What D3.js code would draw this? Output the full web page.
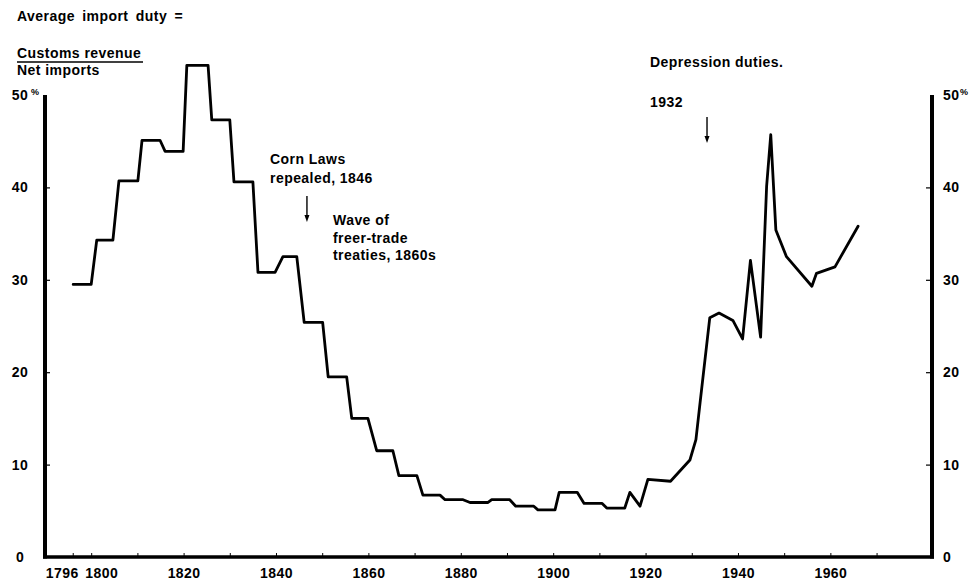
<!DOCTYPE html>
<html>
<head>
<meta charset="utf-8">
<script src="https://cdn.jsdelivr.net/npm/d3@7"></script>
<style>
  html, body { margin: 0; padding: 0; background: #fff; }
  svg text { font-family: "Liberation Sans", Arial, Helvetica, sans-serif; font-weight: bold; fill: #000; }
</style>
</head>
<body>
<svg id="chart" width="970" height="582"></svg>
<script>
// ---- data ----
const years = [1796.1, 1800.0, 1801.2, 1804.7, 1806.0, 1810.1, 1811.0, 1814.9, 1816.0, 1819.9,
  1820.7, 1825.3, 1826.1, 1830.0, 1830.9, 1835.0, 1836.1, 1839.8, 1841.5, 1844.5,
  1846.1, 1850.1, 1851.3, 1855.3, 1856.4, 1859.9, 1861.8, 1865.3, 1866.6, 1870.5,
  1871.8, 1875.5, 1876.6, 1880.5, 1882.0, 1885.9, 1886.7, 1890.6, 1891.9, 1895.8,
  1896.7, 1900.4, 1901.3, 1905.2, 1906.7, 1910.6, 1911.6, 1915.5, 1916.6, 1918.8,
  1920.5, 1925.4, 1929.6, 1930.9, 1931.8, 1933.9, 1935.9, 1938.9, 1941.0, 1942.7,
  1944.9, 1946.2, 1947.1, 1948.2, 1950.5, 1956.0, 1957.0, 1961.0, 1966.0];
const duty = [29.5, 29.5, 34.3, 34.3, 40.7, 40.7, 45.1, 45.1, 43.9, 43.9,
  53.2, 53.2, 47.3, 47.3, 40.6, 40.6, 30.8, 30.8, 32.5, 32.5,
  25.4, 25.4, 19.5, 19.5, 15.0, 15.0, 11.5, 11.5, 8.8, 8.8,
  6.7, 6.7, 6.2, 6.2, 5.9, 5.9, 6.2, 6.2, 5.5, 5.5,
  5.1, 5.1, 7.0, 7.0, 5.8, 5.8, 5.3, 5.3, 7.0, 5.5,
  8.4, 8.2, 10.5, 12.7, 16.7, 25.9, 26.4, 25.6, 23.6, 32.1,
  23.8, 40.1, 45.7, 35.4, 32.5, 29.3, 30.7, 31.4, 35.8];
const xTickYears = [1796, 1800, 1810, 1820, 1830, 1840, 1850, 1860, 1870, 1880, 1890, 1900, 1910, 1920, 1930, 1940, 1950, 1960, 1970];
const xLabelYears = [1796, 1800, 1820, 1840, 1860, 1880, 1900, 1920, 1940, 1960];
const yTicks = [0, 10, 20, 30, 40, 50];
const annotations = [
  { lines: ["Corn Laws", "repealed, 1846"], year: 1846.7 },
  { lines: ["Wave of", "freer-trade", "treaties, 1860s"] },
  { lines: ["Depression duties."] , year: 1933.3, sub: "1932" }
];

// ---- layout ----
const svg = d3.select("#chart");
const x = d3.scaleLinear().domain([1790, 1982]).range([45, 932]);
const y = d3.scaleLinear().domain([0, 50]).range([557, 95]);
const FS = 14;
const LS = 0.45;

// x ticks (small, upward)
svg.append("g").attr("transform", `translate(0,${y(0)})`)
  .call(d3.axisTop(x).tickValues(xTickYears).tickSize(4).tickFormat(""))
  .call(g => g.select(".domain").remove())
  .call(g => g.selectAll("line").attr("stroke", "#000").attr("stroke-width", 1));

// x labels
const xlab = svg.append("g").attr("transform", `translate(0,${y(0)})`)
  .call(d3.axisBottom(x).tickValues(xLabelYears).tickSize(0).tickPadding(0).tickFormat(d3.format("d")))
  .call(g => g.select(".domain").remove());
xlab.selectAll("text")
  .attr("y", 21).attr("dy", 0)
  .attr("font-size", FS).attr("letter-spacing", LS)
  .attr("dx", d => d === 1796 ? -11 : (d === 1800 ? 10 : 0));

// left y axis
svg.append("g").attr("transform", `translate(${x(1790)},0)`)
  .call(d3.axisRight(y).tickValues(yTicks.filter(d => d > 0 && d < 50)).tickSize(5).tickFormat(""))
  .call(g => g.select(".domain").remove())
  .call(g => g.selectAll("line").attr("stroke", "#000").attr("stroke-width", 1.2));
svg.append("g").selectAll("text").data(yTicks).join("text")
  .attr("x", 20).attr("y", d => y(d) + 5)
  .attr("text-anchor", "middle").attr("font-size", FS).attr("letter-spacing", LS)
  .text(d => d);
svg.append("text").attr("x", 31).attr("y", y(50)).attr("font-size", 9).text("%");

// right y axis
svg.append("g").attr("transform", `translate(${x(1982)},0)`)
  .call(d3.axisLeft(y).tickValues(yTicks.filter(d => d > 0 && d < 50)).tickSize(6).tickFormat(""))
  .call(g => g.select(".domain").remove())
  .call(g => g.selectAll("line").attr("stroke", "#000").attr("stroke-width", 1.2));
svg.append("g").selectAll("text").data(yTicks).join("text")
  .attr("x", 943).attr("y", d => y(d) + 5)
  .attr("font-size", FS).attr("letter-spacing", LS)
  .text(d => d);
svg.append("text").attr("x", 960).attr("y", y(50)).attr("font-size", 9).text("%");

// axis frame lines
svg.append("line").attr("x1", x(1790)).attr("x2", x(1790)).attr("y1", y(50)).attr("y2", y(0) + 1.5)
  .attr("stroke", "#000").attr("stroke-width", 4);
svg.append("line").attr("x1", x(1982)).attr("x2", x(1982)).attr("y1", y(50)).attr("y2", y(0) + 1.5)
  .attr("stroke", "#000").attr("stroke-width", 4);
svg.append("line").attr("x1", x(1790) - 2).attr("x2", x(1982) + 2).attr("y1", y(0)).attr("y2", y(0))
  .attr("stroke", "#000").attr("stroke-width", 3.5);

// data line
const pts = years.map((yr, i) => [yr, duty[i]]);
svg.append("path").datum(pts)
  .attr("fill", "none").attr("stroke", "#000").attr("stroke-width", 2.8)
  .attr("stroke-linejoin", "round").attr("stroke-linecap", "round")
  .attr("d", d3.line().x(d => x(d[0])).y(d => y(d[1])));

// title block
const tb = svg.append("g");
tb.append("text").attr("x", 17).attr("y", 21).attr("font-size", FS).attr("letter-spacing", LS).attr("word-spacing", 3).text("Average import duty =");
tb.append("text").attr("x", 17).attr("y", 58).attr("font-size", FS).attr("letter-spacing", LS).text("Customs revenue");
tb.append("line").attr("x1", 17).attr("x2", 143).attr("y1", 62).attr("y2", 62).attr("stroke", "#000").attr("stroke-width", 1.5);
tb.append("text").attr("x", 17).attr("y", 75).attr("font-size", FS).attr("letter-spacing", LS).text("Net imports");

// annotations
function addLines(lines, x0, y0, step) {
  lines.forEach((t, i) => svg.append("text").attr("x", x0).attr("y", y0 + i * step)
    .attr("font-size", FS).attr("letter-spacing", LS).text(t));
}
function arrow(xp, y1, y2) {
  svg.append("line").attr("x1", xp).attr("x2", xp).attr("y1", y1).attr("y2", y2 - 5)
    .attr("stroke", "#000").attr("stroke-width", 1.4);
  svg.append("path").attr("d", `M${xp - 2.5},${y2 - 7} L${xp + 2.5},${y2 - 7} L${xp},${y2} Z`).attr("fill", "#000");
}
addLines(annotations[0].lines, 270, 164, 19);
arrow(x(annotations[0].year), 196, 222);
addLines(annotations[1].lines, 333, 225, 17.5);
addLines(annotations[2].lines, 650, 67, 19);
addLines([annotations[2].sub], 650, 107, 19);
arrow(x(annotations[2].year), 117, 143);
</script>
</body>
</html>
